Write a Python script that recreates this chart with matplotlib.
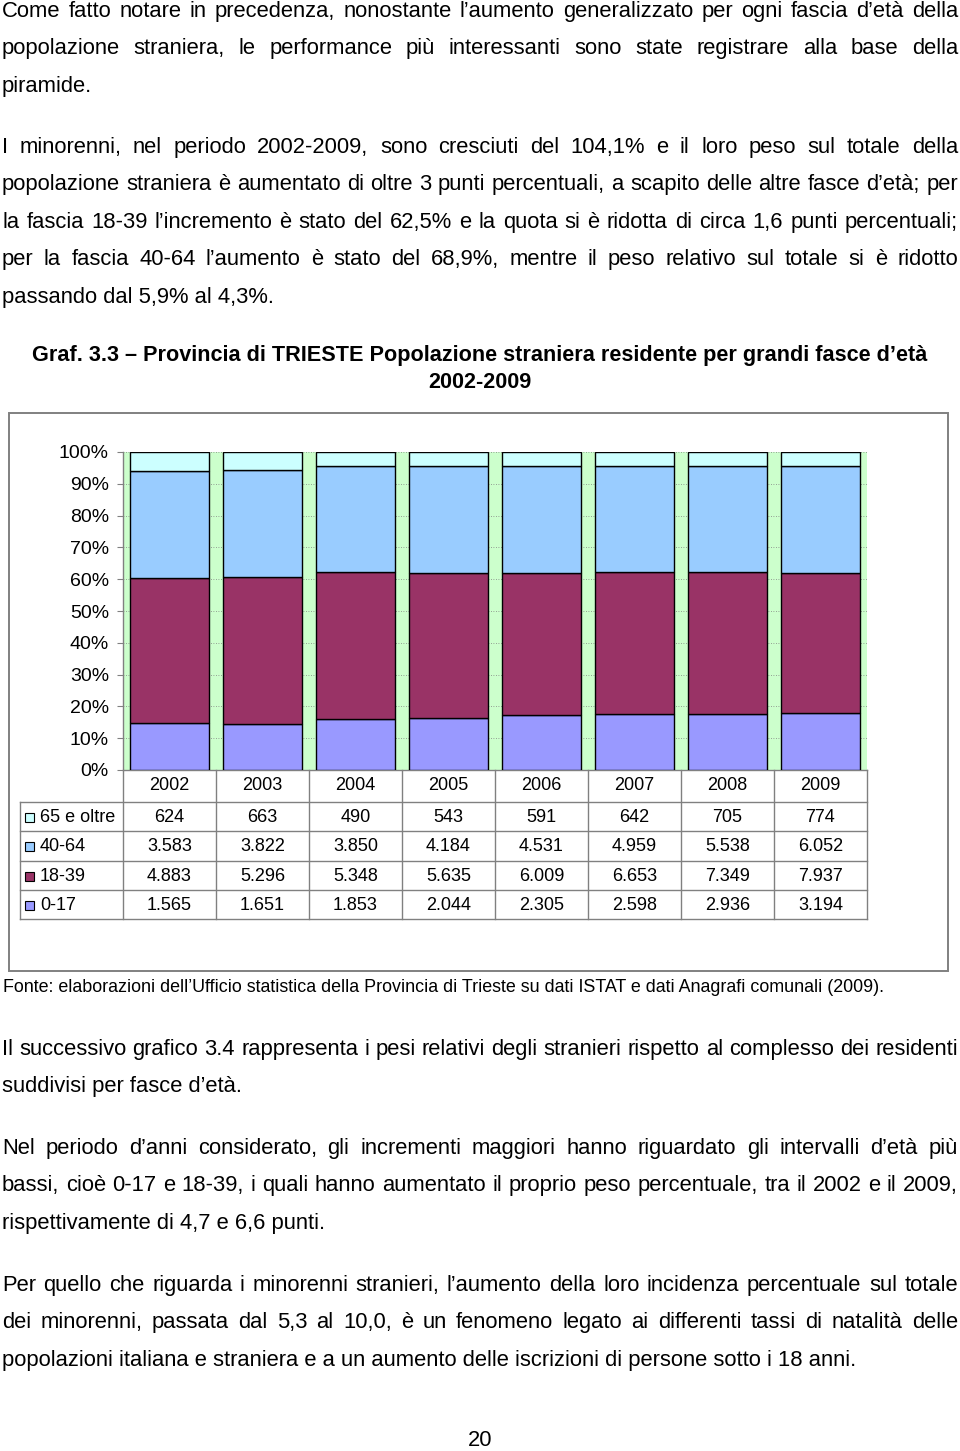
import numpy as np
import matplotlib
matplotlib.use("Agg")
import matplotlib.pyplot as plt
import matplotlib.transforms as mtrans
from matplotlib.patches import Rectangle

# -------------------------------------------
# Data
# -------------------------------------------

years = ["2002", "2003", "2004", "2005", "2006", "2007", "2008", "2009"]
age_0_17 = [1565, 1651, 1853, 2044, 2305, 2598, 2936, 3194]
age_18_39 = [4883, 5296, 5348, 5635, 6009, 6653, 7349, 7937]
age_40_64 = [3583, 3822, 3850, 4184, 4531, 4959, 5538, 6052]
age_65_plus = [624, 663, 490, 543, 591, 642, 705, 774]

group_labels = ["0-17", "18-39", "40-64", "65 e oltre"]
group_colors = ["#9999FF", "#993366", "#99CCFF", "#CCFFFF"]
y_ticks = [0, 10, 20, 30, 40, 50, 60, 70, 80, 90, 100]

para1 = [
    "Come fatto notare in precedenza, nonostante l’aumento generalizzato per ogni fascia d’età della",
    "popolazione straniera, le performance più interessanti sono state registrare alla base della",
    "piramide.",
]
para2 = [
    "I minorenni, nel periodo 2002-2009, sono cresciuti del 104,1% e il loro peso sul totale della",
    "popolazione straniera è aumentato di oltre 3 punti percentuali, a scapito delle altre fasce d’età; per",
    "la fascia 18-39 l’incremento è stato del 62,5% e la quota si è ridotta di circa 1,6 punti percentuali;",
    "per la fascia 40-64 l’aumento è stato del 68,9%, mentre il peso relativo sul totale si è ridotto",
    "passando dal 5,9% al 4,3%.",
]
title_lines = [
    "Graf. 3.3 – Provincia di TRIESTE Popolazione straniera residente per grandi fasce d’età",
    "2002-2009",
]
source_note = ("Fonte: elaborazioni dell’Ufficio statistica della Provincia di Trieste su dati "
               "ISTAT e dati Anagrafi comunali (2009).")
para3 = [
    "Il successivo grafico 3.4 rappresenta i pesi relativi degli stranieri rispetto al complesso dei residenti",
    "suddivisi per fasce d’età.",
]
para4 = [
    "Nel periodo d’anni considerato, gli incrementi maggiori hanno riguardato gli intervalli d’età più",
    "bassi, cioè 0-17 e 18-39, i quali hanno aumentato il proprio peso percentuale, tra il 2002 e il 2009,",
    "rispettivamente di 4,7 e 6,6 punti.",
]
para5 = [
    "Per quello che riguarda i minorenni stranieri, l’aumento della loro incidenza percentuale sul totale",
    "dei minorenni, passata dal 5,3 al 10,0, è un fenomeno legato ai differenti tassi di natalità delle",
    "popolazioni italiana e straniera e a un aumento delle iscrizioni di persone sotto i 18 anni.",
]
page_number = "20"

# -------------------------------------------
# Page setup
# -------------------------------------------

plt.rcParams['font.family'] = ['Liberation Sans', 'DejaVu Sans']

W, H = 960, 1451
BODY = 15.8
CHART = 13
GRAY = "#808080"

fig = plt.figure(figsize=(W / 100, H / 100), dpi=100)
renderer = fig.canvas.get_renderer()


def px_box(left, top, right, bottom):
    return [left / W, 1 - bottom / H, (right - left) / W, (bottom - top) / H]


# chart axes (plot area in pixels)
PL, PT, PR, PB = 123, 452, 867, 770
ax = fig.add_axes(px_box(PL, PT, PR, PB))

# page overlay in pixel coordinates
page = fig.add_axes([0, 0, 1, 1])
page.set_xlim(0, W)
page.set_ylim(H, 0)
page.axis('off')


def text_width(t):
    return t.get_window_extent(renderer).width


def put_line(text, yc, justify, size=BODY, x0=2, x1=958, **kw):
    base = yc + 0.36 * size / 0.72
    if not justify:
        page.text(x0, base, text, fontsize=size, va='baseline', ha='left', **kw)
        return
    words = text.split(' ')
    objs = [page.text(0, base, w, fontsize=size, va='baseline', ha='left', **kw) for w in words]
    widths = [text_width(o) for o in objs]
    gap = (x1 - x0 - sum(widths)) / (len(words) - 1)
    x = x0
    for o, w in zip(objs, widths):
        o.set_x(x)
        x += w + gap


def put_paragraph(lines, y0, step=37.5):
    # justified text, last line left aligned
    for i, line in enumerate(lines):
        put_line(line, y0 + i * step, justify=(i < len(lines) - 1))


def fit_size(text, target, weight='normal'):
    t = page.text(0, 0, text, fontsize=10, fontweight=weight)
    w = text_width(t)
    t.remove()
    return 10 * target / w


# -------------------------------------------
# Body text
# -------------------------------------------

put_paragraph(para1, 9)
put_paragraph(para2, 145)

tsize = fit_size(title_lines[0], 896, 'bold')
page.text(480, 356, title_lines[0], fontsize=tsize, fontweight='bold', ha='center', va='center')
page.text(480, 382, title_lines[1], fontsize=tsize, fontweight='bold', ha='center', va='center')

fsize = fit_size(source_note, 881)
page.text(3, 988, source_note, fontsize=fsize, ha='left', va='center')

put_paragraph(para3, 1047)
put_paragraph(para4, 1146)
put_paragraph(para5, 1283)
page.text(480, 1440, page_number, fontsize=BODY, ha='center', va='center')

# -------------------------------------------
# Chart
# -------------------------------------------

series = np.array([age_0_17, age_18_39, age_40_64, age_65_plus], dtype=float)
shares = series / series.sum(axis=0)
x = np.arange(len(years))

ax.set_facecolor("#CCFFCC")
bottom = np.zeros(len(years))
for share, color, label in zip(shares, group_colors, group_labels):
    ax.bar(x, share, bottom=bottom, width=0.84, color=color, edgecolor='black',
           linewidth=1.0, label=label, zorder=3)
    bottom += share

ax.set_xlim(-0.5, len(years) - 0.5)
ax.set_ylim(0, 1)
ax.set_xticks([])
ax.set_yticks([v / 100 for v in y_ticks])
ax.set_yticklabels([f"{v}%" for v in y_ticks])
ax.tick_params(axis='y', direction='out', length=4.3, width=0.8, color=GRAY,
               pad=5.8, labelsize=14)
ax.yaxis.grid(True, linestyle=(0, (1, 2)), color=GRAY, linewidth=0.6)
ax.set_axisbelow(True)
for side in ['top', 'right']:
    ax.spines[side].set_visible(False)
for side in ['left', 'bottom']:
    ax.spines[side].set_color(GRAY)
    ax.spines[side].set_linewidth(1.0)

# outer chart frame
page.add_patch(Rectangle((9, 413), 939, 558, fill=False, edgecolor=GRAY, linewidth=1.4))

# -------------------------------------------
# Data table under the chart
# -------------------------------------------

mixed = mtrans.blended_transform_factory(ax.transData, page.transData)
TL, TT, TB = 20, 802, 919
row_h = (TB - TT) / 4

# year labels
for i, yr in enumerate(years):
    page.text(i, 786, yr, transform=mixed, ha='center', va='center', fontsize=CHART)

# column separators (category boundaries)
for k in range(len(years) + 1):
    page.plot([k - 0.5, k - 0.5], [PB, TB], transform=mixed, color=GRAY, lw=1.0)

# horizontal rules
for r in range(5):
    yy = TT + r * row_h
    page.plot([TL, PR], [yy, yy], color=GRAY, lw=1.0)
page.plot([TL, TL], [TT, TB], color=GRAY, lw=1.0)

rows = list(zip(group_labels, group_colors, series))[::-1]
for r, (label, color, vals) in enumerate(rows):
    yc = TT + (r + 0.5) * row_h + 1
    page.add_patch(Rectangle((25, yc - 4.5), 9, 9, facecolor=color, edgecolor='black', linewidth=0.8))
    page.text(40, yc, label, ha='left', va='center', fontsize=CHART)
    for i, v in enumerate(vals):
        page.text(i, yc, f"{int(v):,}".replace(",", "."), transform=mixed,
                  ha='center', va='center', fontsize=CHART)

fig.savefig("out.png", dpi=100)
